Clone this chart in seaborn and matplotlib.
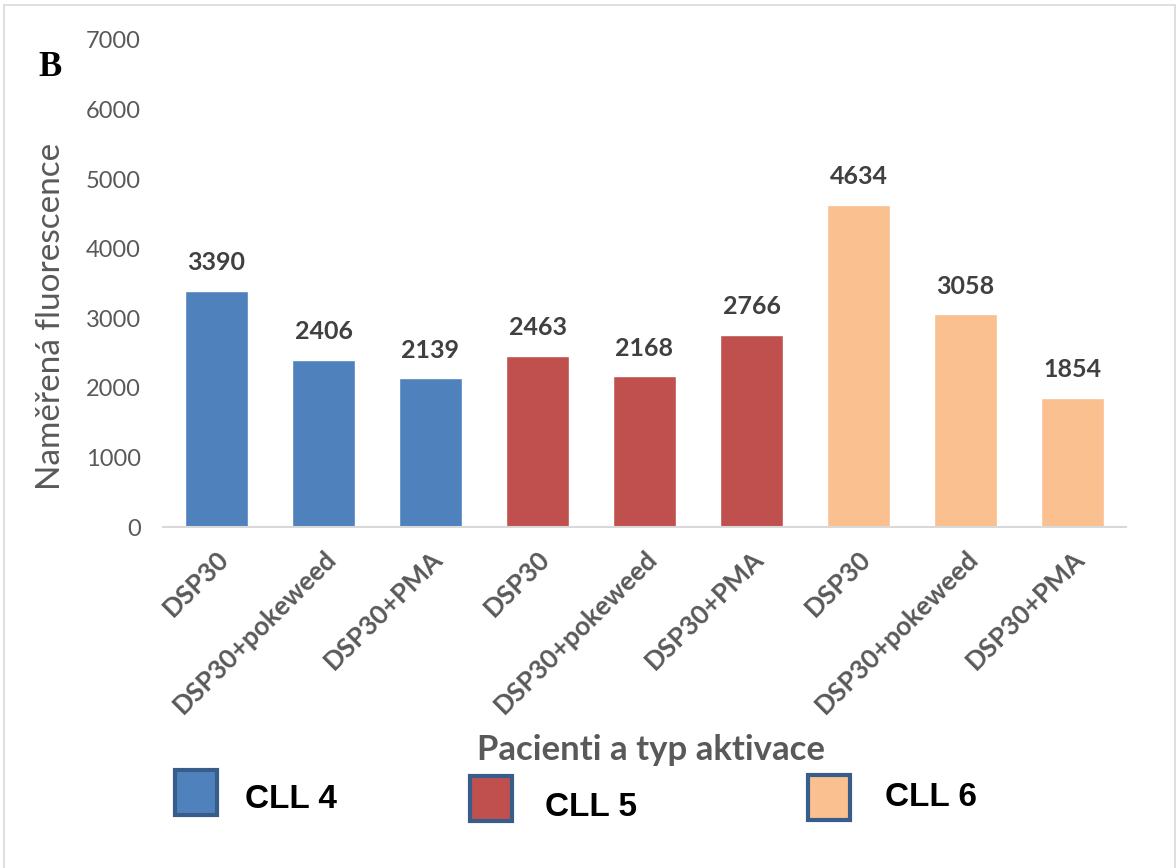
import matplotlib
matplotlib.use("Agg")
import matplotlib.pyplot as plt
from matplotlib.patches import Rectangle
from matplotlib.lines import Line2D
import seaborn as sns
import pandas as pd

# Data
patients = ["CLL 4", "CLL 4", "CLL 4", "CLL 5", "CLL 5", "CLL 5", "CLL 6", "CLL 6", "CLL 6"]
treatments = ["DSP30", "DSP30+pokeweed", "DSP30+PMA"] * 3
fluorescence = [3390, 2406, 2139, 2463, 2168, 2766, 4634, 3058, 1854]
patient_levels = ["CLL 4", "CLL 5", "CLL 6"]
patient_colors = ["#4F81BD", "#C0504D", "#FAC090"]
yticks = [0, 1000, 2000, 3000, 4000, 5000, 6000, 7000]

df = pd.DataFrame({
    "key": [f"{p} {t}" for p, t in zip(patients, treatments)],
    "patient": patients,
    "treatment": treatments,
    "value": fluorescence,
})

sns.set_theme(style="white")
plt.rcParams["font.family"] = ["Lato", "DejaVu Sans"]

fig = plt.figure(figsize=(11.76, 8.68), dpi=100)
ax = fig.add_axes([163 / 1176, 1 - 527 / 868, (1126 - 163) / 1176, (527 - 40) / 868])

sns.barplot(data=df, x="key", y="value", hue="patient", hue_order=patient_levels,
            palette=patient_colors, dodge=False, width=0.59, saturation=1,
            legend=False, ax=ax)

ax.set_ylim(0, 7000)
ax.set_xlim(-0.5, len(df) - 0.5)
ax.set_yticks(yticks)
ax.set_yticklabels([str(v) for v in yticks], fontsize=17, color="#595959")
ax.tick_params(axis="y", length=0, pad=16)
ax.tick_params(axis="x", length=0, pad=14)
ax.set_xticks(range(len(df)))
ax.set_xticklabels(df["treatment"], rotation=45, ha="right", va="top",
                   rotation_mode="anchor", fontsize=19, fontweight="bold",
                   color="#595959")

for side in ["top", "right", "left"]:
    ax.spines[side].set_visible(False)
ax.spines["bottom"].set_color("#D9D9D9")
ax.spines["bottom"].set_linewidth(1.5)
ax.grid(False)

for cont in ax.containers:
    ax.bar_label(cont, fmt="%d", padding=12, fontsize=18, fontweight="bold",
                 color="#404040")

ax.set_xlabel("")
ax.set_ylabel("")
fig.text(51 / 1176, 1 - 316 / 868, "Naměřená fluorescence", rotation=90,
         ha="center", va="center", fontsize=24, color="#595959")
fig.text(651 / 1176, 1 - 750 / 868, "Pacienti a typ aktivace",
         ha="center", va="center", fontsize=25, fontweight="bold",
         color="#595959")

# Panel letter
fig.text(50 / 1176, 1 - 68 / 868, "B", ha="center", va="center",
         fontsize=25, fontweight="bold", family=["Liberation Serif", "DejaVu Serif"],
         color="black")

# Legend swatches and labels
legend_items = [
    (175, 770, 245, 800),
    (470, 776, 545, 808),
    (808, 775, 885, 797),
]
for (sx, sy, tx, ty), name, col in zip(legend_items, patient_levels, patient_colors):
    fig.add_artist(Rectangle((sx / 1176, 1 - (sy + 45) / 868), 42 / 1176, 45 / 868,
                             transform=fig.transFigure, facecolor=col,
                             edgecolor="#385D8A", linewidth=3))
    fig.text(tx / 1176, 1 - ty / 868, name, ha="left", va="center",
             fontsize=24, fontweight="bold",
             family=["Liberation Sans", "DejaVu Sans"],
             color="black")

# Outer frame
frame_color = "#D9D9D9"
fig.add_artist(Line2D([4 / 1176, 4 / 1176], [0, 1 - 5 / 868], transform=fig.transFigure,
                      color=frame_color, linewidth=1.2))
fig.add_artist(Line2D([1175 / 1176, 1175 / 1176], [0, 1 - 5 / 868], transform=fig.transFigure,
                      color=frame_color, linewidth=1.2))
fig.add_artist(Line2D([4 / 1176, 1175 / 1176], [1 - 5 / 868, 1 - 5 / 868],
                      transform=fig.transFigure, color=frame_color, linewidth=1.2))

fig.savefig("out.png", dpi=100, facecolor="white")
